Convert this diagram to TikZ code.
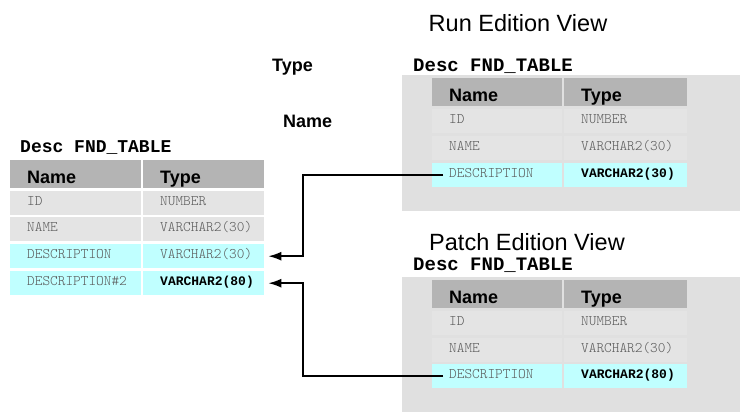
\documentclass[tikz,border=0pt]{standalone}
\usepackage{fontspec}
\setmainfont{Liberation Sans}
\newfontfamily\heavymono{Liberation Mono}
\usetikzlibrary{arrows.meta}
\definecolor{hdrgray}{RGB}{180,180,180}
\definecolor{rowgray}{RGB}{228,228,228}
\definecolor{panelgray}{RGB}{224,224,224}
\definecolor{rowcyan}{RGB}{192,255,255}
\definecolor{rowtext}{RGB}{90,90,90}
\tikzset{
  hdr/.style={anchor=north west, fill=hdrgray, inner xsep=17pt, inner ysep=0pt,
    minimum height=28pt, text height=18pt, text depth=0pt,
    font=\fontsize{18}{18}\selectfont\bfseries},
  row/.style={anchor=north west, fill=rowgray, inner xsep=17pt, inner ysep=0pt,
    minimum height=24pt, text height=5pt, text depth=0pt, text=rowtext,
    font=\fontsize{14.6}{15}\selectfont\ttfamily\fontseries{l}\selectfont},
  new/.style={fill=rowcyan},
  hot/.style={text=black, font=\fontsize{13}{13}\selectfont\heavymono\bfseries},
  lcol/.style={text width=97pt},
  ltype/.style={text width=87pt},
  rcol/.style={text width=96pt},
  rtype/.style={text width=89pt},
  desc/.style={anchor=base west, inner sep=0pt, font=\fontsize{#1}{#1}\selectfont\heavymono\bfseries},
  title/.style={anchor=base, inner sep=0pt, font=\fontsize{23.5}{23.5}\selectfont},
  tag/.style={anchor=base west, inner sep=0pt, font=\fontsize{18}{18}\selectfont\bfseries},
  link/.style={line width=1.6pt, -{Latex[length=13pt,width=9pt]}, shorten >=4pt}
}
\begin{document}
\begin{tikzpicture}[x=1pt,y=-1pt]
  \useasboundingbox (0,0) rectangle (740,412);

  % base table
  \node[desc=18] (ldesc) at (20,153) {Desc FND\_TABLE};
  \node[hdr,lcol] (lhname) at (10,160) {Name};
  \node[hdr,ltype] (lhtype) at (143,160) {Type};
  \node[row,lcol] (lid) at (10,191) {ID};
  \node[row,ltype] (lidtype) at (143,191) {NUMBER};
  \node[row,lcol] (lname) at (10,217) {NAME};
  \node[row,ltype] (lnametype) at (143,217) {VARCHAR2(30)};
  \node[row,new,lcol] (ldescr) at (10,244) {DESCRIPTION};
  \node[row,new,ltype] (ldescrtype) at (143,244) {VARCHAR2(30)};
  \node[row,new,lcol] (ldescr2) at (10,271) {DESCRIPTION\#2};
  \node[row,new,hot,ltype] (ldescr2type) at (143,271) {VARCHAR2(80)};

  \node[tag] (typetag) at (272,72) {Type};
  \node[tag] (nametag) at (283,128) {Name};

  % run edition
  \node[title] (runtitle) at (518,32) {Run Edition View};
  \node[desc=19] (rdesc) at (413,72) {Desc FND\_TABLE};
  \fill[panelgray] (402,75) rectangle (740,211);
  \node[hdr,rcol] (rhname) at (432,78) {Name};
  \node[hdr,rtype] (rhtype) at (564,78) {Type};
  \node[row,rcol] (rid) at (432,109) {ID};
  \node[row,rtype] (ridtype) at (564,109) {NUMBER};
  \node[row,rcol] (rname) at (432,136) {NAME};
  \node[row,rtype] (rnametype) at (564,136) {VARCHAR2(30)};
  \node[row,new,rcol] (rdescr) at (432,163) {DESCRIPTION};
  \node[row,new,hot,rtype] (rdescrtype) at (564,163) {VARCHAR2(30)};

  % patch edition
  \node[title] (patchtitle) at (527,250) {Patch Edition View};
  \node[desc=19] (pdesc) at (413,270) {Desc FND\_TABLE};
  \fill[panelgray] (402,277) rectangle (740,412);
  \node[hdr,rcol] (phname) at (432,280) {Name};
  \node[hdr,rtype] (phtype) at (564,280) {Type};
  \node[row,rcol] (pid) at (432,311) {ID};
  \node[row,rtype] (pidtype) at (564,311) {NUMBER};
  \node[row,rcol] (pname) at (432,338) {NAME};
  \node[row,rtype] (pnametype) at (564,338) {VARCHAR2(30)};
  \node[row,new,rcol] (pdescr) at (432,364) {DESCRIPTION};
  \node[row,new,hot,rtype] (pdescrtype) at (564,364) {VARCHAR2(80)};

  \draw[link] ([xshift=11pt]rdescr.west) -- ++(-140,0) |- (ldescrtype.east);
  \draw[link] ([xshift=11pt]pdescr.west) -- ++(-140,0) |- (ldescr2type.east);
\end{tikzpicture}
\end{document}
